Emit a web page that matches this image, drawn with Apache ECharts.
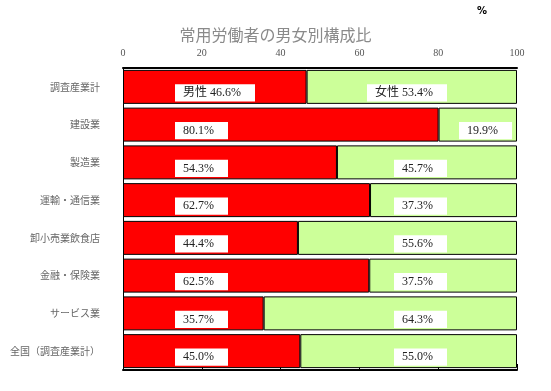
<!DOCTYPE html>
<html>
<head>
<meta charset="utf-8">
<script src="https://cdn.jsdelivr.net/npm/echarts@6/dist/echarts.min.js"></script>
<style>
  html, body { margin: 0; padding: 0; background: #fff; }
  #chart { width: 551px; height: 391px; }
</style>
</head>
<body>
<div id="chart"></div>
<script>
const categories = ['調査産業計', '建設業', '製造業', '運輸・通信業', '卸小売業飲食店', '金融・保険業', 'サービス業', '全国（調査産業計）'];
const male = [46.6, 80.1, 54.3, 62.7, 44.4, 62.5, 35.7, 45.0];
const female = [53.4, 19.9, 45.7, 37.3, 55.6, 37.5, 64.3, 55.0];
const xTicks = [0, 20, 40, 60, 80, 100];

const labelFont = "'Liberation Serif', 'Noto Sans CJK JP', serif";
const labelBox = {
  show: true,
  color: '#222',
  fontSize: 12,
  fontFamily: labelFont,
  backgroundColor: '#fff',
  padding: [3, 14, 2, 8],
  offset: [0, 6]
};

const chart = echarts.init(document.getElementById('chart'));
chart.setOption({
  animation: false,
  title: {
    text: '常用労働者の男女別構成比',
    left: 'center',
    top: 22,
    textStyle: { color: '#8a8a8a', fontSize: 16, fontWeight: 'normal', fontFamily: "'Noto Sans CJK JP'" }
  },
  graphic: [{
    type: 'text', left: 477, top: 6,
    style: { text: '%', fontSize: 10, fontWeight: 'bold', fill: '#000', fontFamily: 'DejaVu Sans' }
  }],
  grid: { left: 123, right: 34, top: 68, bottom: 21 },
  xAxis: [{
    type: 'value',
    position: 'top',
    min: 0, max: 100, interval: 20,
    axisLine: { show: true, lineStyle: { color: '#000', width: 2 } },
    axisTick: { show: false },
    splitLine: { show: false },
    axisLabel: {
      margin: 10, color: '#555', fontSize: 10, fontFamily: labelFont,
      formatter: v => xTicks.includes(v) ? String(v) : ''
    }
  }, {
    type: 'value',
    position: 'bottom',
    min: 0, max: 100, interval: 20,
    axisLine: { show: true, lineStyle: { color: '#000', width: 2 } },
    axisTick: { show: true, inside: true, length: 6, lineStyle: { color: '#000' } },
    splitLine: { show: false },
    axisLabel: { show: false }
  }],
  yAxis: {
    type: 'category',
    data: categories,
    inverse: true,
    axisLine: { show: true, lineStyle: { color: '#000', width: 1 } },
    axisTick: { show: true, inside: true, length: 8, alignWithLabel: true, lineStyle: { color: '#000' } },
    axisLabel: { margin: 23, color: '#666', fontSize: 10, fontFamily: "'Noto Sans CJK JP'" }
  },
  series: [{
    name: '男性',
    type: 'bar',
    stack: 'total',
    barCategoryGap: '10%',
    data: male,
    itemStyle: { color: '#ff0000', borderColor: '#000', borderWidth: 1 },
    label: Object.assign({}, labelBox, {
      position: 'insideLeft',
      distance: 52,
      formatter: p => (p.dataIndex === 0 ? '男性 ' : '') + p.value.toFixed(1) + '%'
    })
  }, {
    name: '女性',
    type: 'bar',
    stack: 'total',
    data: female.map((v, i) => i === 1
      ? { value: v, label: { distance: 5 } }
      : { value: v }),
    itemStyle: { color: '#ccff99', borderColor: '#000', borderWidth: 1 },
    label: Object.assign({}, labelBox, {
      position: 'insideRight',
      distance: 70,
      formatter: p => (p.dataIndex === 0 ? '女性 ' : '') + p.value.toFixed(1) + '%'
    })
  }]
});
</script>
</body>
</html>
